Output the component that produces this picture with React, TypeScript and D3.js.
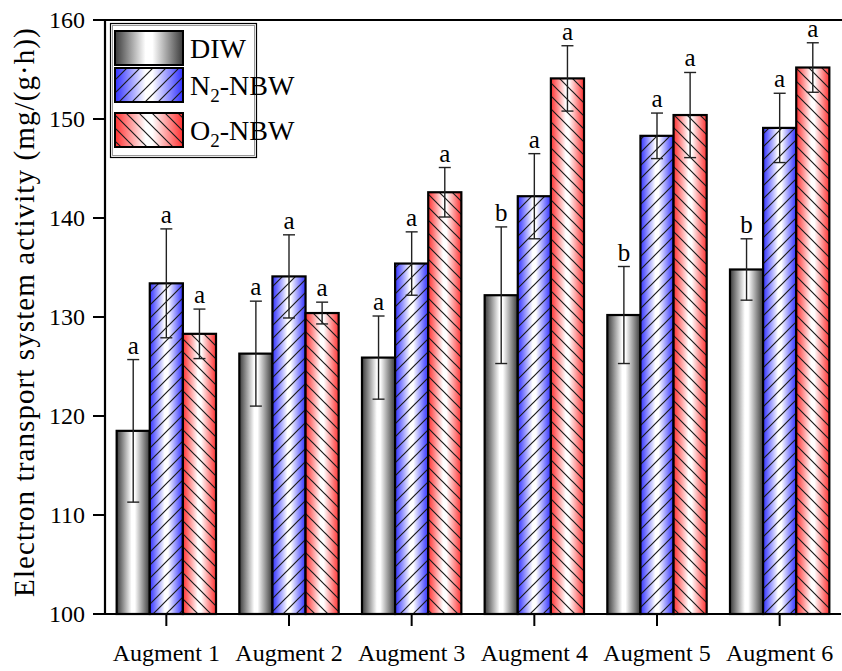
import React from "react";
import * as d3 from "d3";

const categories = ["Augment 1", "Augment 2", "Augment 3", "Augment 4", "Augment 5", "Augment 6"];
const seriesNames = ["DIW", "N2-NBW", "O2-NBW"];

const diw = [118.5, 126.3, 125.9, 132.2, 130.2, 134.8];
const diwErr = [7.2, 5.3, 4.2, 6.9, 4.9, 3.1];
const diwSig = ["a", "a", "a", "b", "b", "b"];

const n2 = [133.4, 134.1, 135.4, 142.2, 148.3, 149.1];
const n2Err = [5.5, 4.2, 3.2, 4.3, 2.3, 3.5];
const n2Sig = ["a", "a", "a", "a", "a", "a"];

const o2 = [128.3, 130.4, 142.6, 154.1, 150.4, 155.2];
const o2Err = [2.5, 1.1, 2.5, 3.3, 4.3, 2.5];
const o2Sig = ["a", "a", "a", "a", "a", "a"];

const yTicks = [100, 110, 120, 130, 140, 150, 160];

const W = 842;
const H = 671;
const left = 105;
const right = 841;
const top = 20;
const bottom = 614;
const font = "'Liberation Serif', 'Times New Roman', Times, serif";

const styles = [
  { grad: "gDiw", edge: "#3a3a3a", hatch: null },
  { grad: "gN2", edge: "#2f2fff", hatch: "hN2" },
  { grad: "gO2", edge: "#ff2f2f", hatch: "hO2" },
];

export default function App() {
  const x = d3.scaleBand<string>().domain(categories).range([left, right]).paddingInner(0.19).paddingOuter(0.095);
  const xs = d3.scaleBand<string>().domain(seriesNames).range([0, x.bandwidth()]);
  const y = d3.scaleLinear().domain([100, 160]).range([bottom, top]);

  const data = [
    { name: seriesNames[0], vals: diw, errs: diwErr, sig: diwSig },
    { name: seriesNames[1], vals: n2, errs: n2Err, sig: n2Sig },
    { name: seriesNames[2], vals: o2, errs: o2Err, sig: o2Sig },
  ];

  const gradient = (id: string, edge: string) => (
    <linearGradient id={id} x1="0" x2="1" y1="0" y2="0">
      <stop offset="0" stopColor={edge} />
      <stop offset="0.45" stopColor="#ffffff" />
      <stop offset="0.55" stopColor="#ffffff" />
      <stop offset="1" stopColor={edge} />
    </linearGradient>
  );

  const legendY = [31, 68, 113];

  return (
    <svg width={W} height={H} style={{ position: "absolute", left: 0, top: 0 }} fontFamily={font}>
      <defs>
        {gradient("gDiw", "#3a3a3a")}
        {gradient("gN2", "#2f2fff")}
        {gradient("gO2", "#ff2f2f")}
        <pattern id="hN2" patternUnits="userSpaceOnUse" width="13" height="13">
          <path d="M-1,14 L14,-1 M-4,4 L4,-4 M9,17 L17,9" stroke="#1a1a1a" strokeWidth="1.2" />
        </pattern>
        <pattern id="hO2" patternUnits="userSpaceOnUse" width="13" height="13">
          <path d="M-1,-1 L14,14 M-4,9 L4,17 M9,-4 L17,4" stroke="#1a1a1a" strokeWidth="1.2" />
        </pattern>
      </defs>

      {/* bars */}
      {data.map((s, si) =>
        s.vals.map((v, i) => {
          const bx = (x(categories[i]) ?? 0) + (xs(s.name) ?? 0);
          const bw = xs.bandwidth();
          const by = y(v);
          const st = styles[si];
          return (
            <g key={s.name + i}>
              <rect x={bx} y={by} width={bw} height={bottom - by} fill={`url(#${st.grad})`} />
              {st.hatch && <rect x={bx} y={by} width={bw} height={bottom - by} fill={`url(#${st.hatch})`} />}
              <rect x={bx} y={by} width={bw} height={bottom - by} fill="none" stroke="#000" strokeWidth={2.2} />
            </g>
          );
        })
      )}

      {/* error bars and letters */}
      {data.map((s, si) =>
        s.vals.map((v, i) => {
          const cx = (x(categories[i]) ?? 0) + (xs(s.name) ?? 0) + xs.bandwidth() / 2;
          const hi = y(v + s.errs[i]);
          const lo = y(v - s.errs[i]);
          return (
            <g key={"e" + s.name + i} stroke="#222" strokeWidth={1.4}>
              <line x1={cx} x2={cx} y1={hi} y2={lo} />
              <line x1={cx - 6} x2={cx + 6} y1={hi} y2={hi} />
              <line x1={cx - 6} x2={cx + 6} y1={lo} y2={lo} />
              <text x={cx} y={hi - 6} textAnchor="middle" fontSize={25} fontFamily={font} fill="#000" stroke="none">
                {s.sig[i]}
              </text>
            </g>
          );
        })
      )}

      {/* frame */}
      <line x1={left} x2={W} y1={top} y2={top} stroke="#000" strokeWidth={2} />
      <line x1={left} x2={left} y1={top - 1} y2={bottom} stroke="#000" strokeWidth={2.2} />
      <line x1={left - 1} x2={right} y1={bottom} y2={bottom} stroke="#000" strokeWidth={2.2} />

      {/* y axis */}
      {yTicks.map((t) => (
        <g key={t}>
          <line x1={left - 12} x2={left} y1={y(t)} y2={y(t)} stroke="#000" strokeWidth={2} />
          <text x={left - 20} y={y(t)} dy="0.35em" textAnchor="end" fontSize={24} fontFamily={font}>
            {t}
          </text>
        </g>
      ))}
      <text
        transform={`translate(34,312) rotate(-90)`}
        textAnchor="middle"
        fontSize={29}
        letterSpacing={1.1}
        fontFamily={font}
      >
        Electron transport system activity (mg/(g·h))
      </text>

      {/* x axis */}
      {categories.map((c) => {
        const cx = (x(c) ?? 0) + x.bandwidth() / 2;
        return (
          <g key={c}>
            <line x1={cx} x2={cx} y1={bottom} y2={bottom + 12} stroke="#000" strokeWidth={2} />
            <text x={cx} y={bottom + 47} textAnchor="middle" fontSize={24} fontFamily={font}>
              {c}
            </text>
          </g>
        );
      })}

      {/* legend */}
      <rect x={110.5} y={23.5} width={146} height={134} fill="#fff" stroke="#000" strokeWidth={1.2} />
      <rect x={112.5} y={25.5} width={142} height={130} fill="none" stroke="#999" strokeWidth={1} />
      {seriesNames.map((n, i) => {
        const st = styles[i];
        const ly = legendY[i];
        const sub = n.startsWith("N2") ? "N" : n.startsWith("O2") ? "O" : null;
        return (
          <g key={n}>
            <rect x={115} y={ly} width={68} height={34} fill={`url(#${st.grad})`} />
            {st.hatch && <rect x={115} y={ly} width={68} height={34} fill={`url(#${st.hatch})`} />}
            <rect x={115} y={ly} width={68} height={34} fill="none" stroke="#000" strokeWidth={2} />
            <text x={190} y={ly + 27} fontSize={28} fontFamily={font}>
              {sub ? (
                <>
                  {sub}
                  <tspan fontSize={19} dy={7}>2</tspan>
                  <tspan dy={-7}>-NBW</tspan>
                </>
              ) : (
                n
              )}
            </text>
          </g>
        );
      })}
    </svg>
  );
}
